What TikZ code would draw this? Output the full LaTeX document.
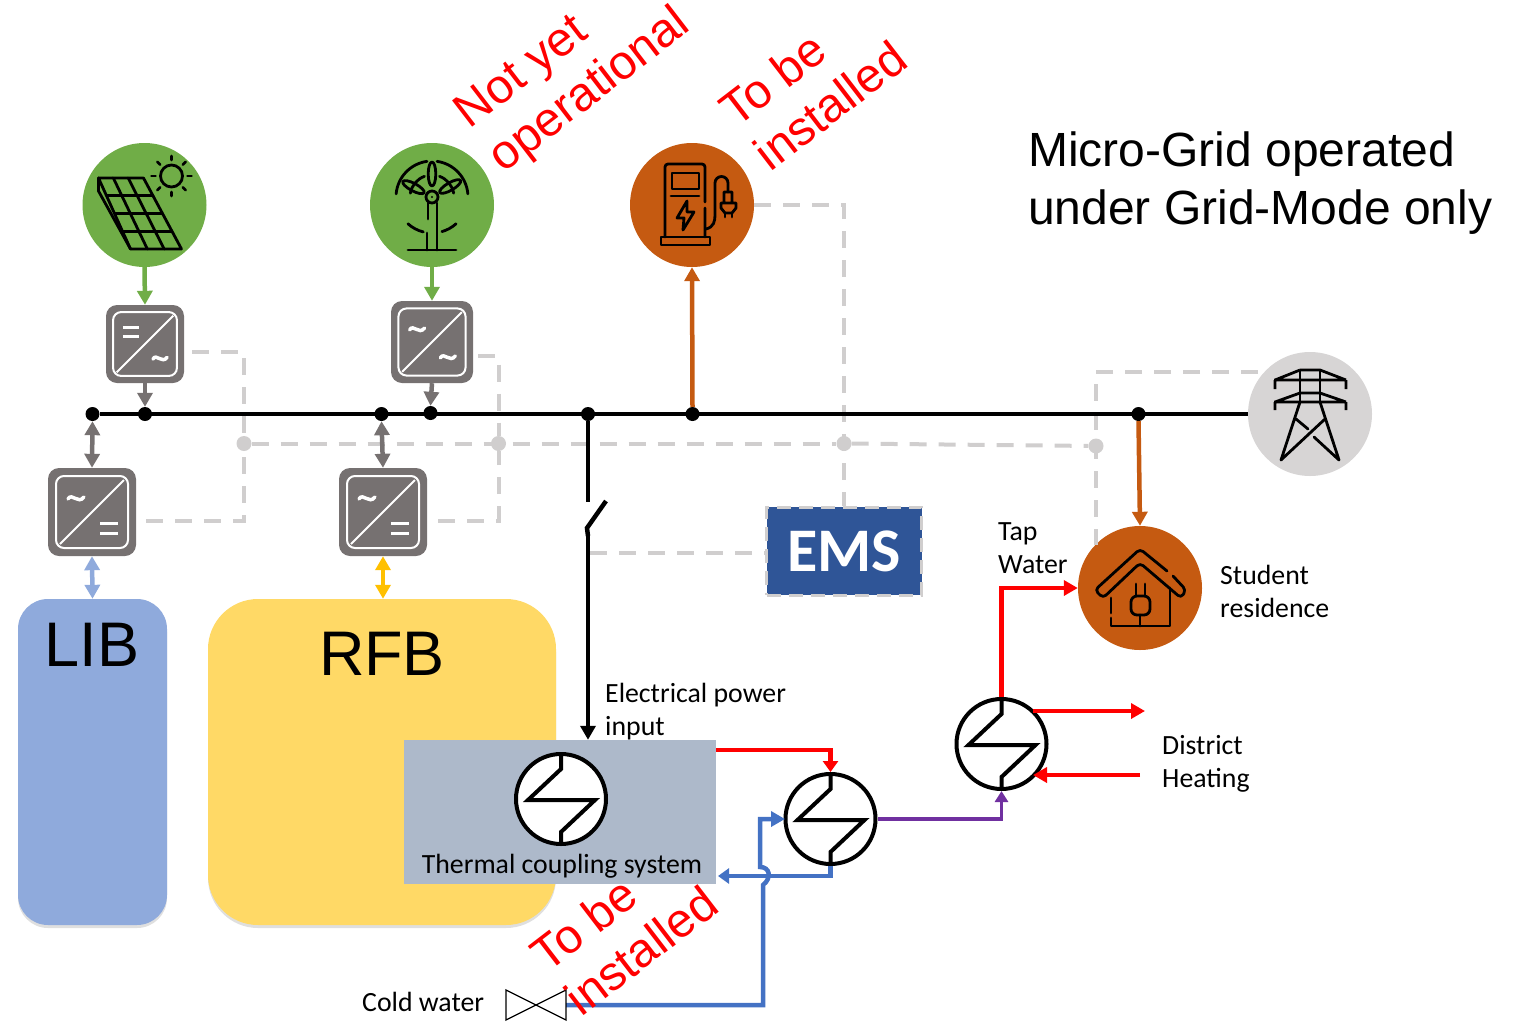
\documentclass[tikz,border=0pt]{standalone}
\usepackage{fontspec}
\setmainfont{Carlito}
\newfontfamily\arialfont{Liberation Sans}
\usetikzlibrary{arrows.meta,shadows}

\definecolor{pvgreen}{HTML}{70AD47}
\definecolor{loadorange}{HTML}{C55A11}
\definecolor{invgray}{HTML}{767171}
\definecolor{ctrlgray}{HTML}{D0CECE}
\definecolor{libblue}{HTML}{8FAADC}
\definecolor{rfbyellow}{HTML}{FFD966}
\definecolor{rfbarrow}{HTML}{FFC000}
\definecolor{boxgray}{HTML}{ADB9CA}
\definecolor{waterblue}{HTML}{4472C4}
\definecolor{emsblue}{HTML}{2F5597}
\definecolor{loopviolet}{HTML}{7030A0}

% signs on the converters
\newcommand{\acsign}{\draw[white, line width=3.5pt, line cap=round] (-8,1) .. controls (-4,-6) and (2,7) .. (8,-1);}
\newcommand{\dcsign}{\draw[white, line width=3pt] (-9,-5) -- (9,-5) (-9,5) -- (9,5);}
% node name, size, upper sign, lower sign
\newcommand{\convface}[4]{
  \begin{scope}[shift={(#1)}, scale=#2/88]
    \draw[white, line width=2pt, rounded corners=8pt] (-36,-36) rectangle (36,36);
    \draw[white, line width=2pt] (-32,32) -- (32,-32);
    \begin{scope}[shift={(-16,-14)}]#3\end{scope}
    \begin{scope}[shift={(17,16)}]#4\end{scope}
  \end{scope}
}

\tikzset{
  flow/.style={line width=4.5pt, -{Triangle[width=15pt,length=14pt]}},
  flowboth/.style={line width=4.5pt, {Triangle[width=15pt,length=14pt]}-{Triangle[width=15pt,length=14pt]}},
  ctrl/.style={ctrlgray, line width=4pt, dash pattern=on 17pt off 12pt},
  busdot/.style={circle, fill=black, minimum size=14pt, inner sep=0pt},
  ctrldot/.style={circle, fill=ctrlgray, minimum size=15pt, inner sep=0pt},
  disc/.style={circle, fill=#1, minimum size=124pt, inner sep=0pt},
  icon/.style={black, line width=2.8pt, line cap=round, line join=round},
  labeltext/.style={font=\fontsize{27.8}{33}\selectfont, anchor=west, align=left, inner sep=0pt},
  redtext/.style={font=\arialfont\fontsize{48}{56}\selectfont, text=red, rotate=37.5, align=left, inner sep=0pt},
  storage/.style={rectangle, fill=#1, inner sep=0pt, drop shadow={opacity=.25, shadow xshift=0pt, shadow yshift=-3pt}},
  converter/.style={rectangle, fill=invgray, rounded corners=11pt, minimum size=#1pt, inner sep=0pt},
  % heat exchanger
  hx/.style={circle, draw=black, fill=white, line width=4pt, minimum size=90pt, inner sep=0pt,
    path picture={\draw[black, line width=4pt] (0,-46) -- (0,-30) -- (-33,1) -- (34,1) -- (0,33) -- (0,46);}},
  solarcell/.style={disc=pvgreen, path picture={
    \draw[icon] (-46,-27) -- (-1,-27) -- (37,44) -- (-14,44) -- cycle;
    \draw[icon] (-46,-27) -- (-46,-14) -- (-14,44);
    \foreach \t in {.25,.5,.75} \draw[icon] ({-46+32*\t},{-27+71*\t}) -- ({-1+38*\t},{-27+71*\t});
    \foreach \t in {.33,.66} \draw[icon] ({-46+45*\t},-27) -- ({-14+51*\t},44);
    \draw[icon] (27,-29) circle (11);
    \foreach \a in {0,45,...,315} \draw[icon] (27,-29) ++(\a:16) -- ++(\a:4);
  }},
  chargepost/.style={disc=loadorange, path picture={
    \draw[icon, rounded corners=3pt] (-27,32) -- (-27,-41) -- (13,-41) -- (13,-3) (13,3) -- (13,32);
    \draw[icon] (-31,32) rectangle (18,40);
    \draw[icon] (-20,-32) rectangle (7,-16);
    \draw[icon] (-21,-9) -- (7,-9);
    \draw[icon] (-5,-4) -- (-15,13) -- (-8,13) -- (-9,25) -- (2,7) -- (-5,7) -- cycle;
    \draw[icon] (14,24) .. controls (22,22) and (23,16) .. (23,10) -- (23,-22) arc (180:360:6.5) -- (36,-13);
    \draw[icon] (32,-13) rectangle (40,-2) (29,-2) -- (44,-2) -- (44,3) -- (40,8) -- (33,8) -- (29,3) -- cycle;
    \draw[icon] (33,8) -- (33,12) (40,8) -- (40,12);
  }},
  homeplug/.style={disc=loadorange, path picture={
    \draw[icon, rounded corners=4pt] (27,-17) -- (0,-39) -- (-45,2) -- (-37,10) -- (0,-25) -- (41,10) -- (46,2) -- (33,-12);
    \draw[icon] (-29,10) -- (-29,25) (-29,30) -- (-29,38) -- (30,38) -- (30,0);
    \draw[icon] (-4,-4) -- (-4,8) (5,-4) -- (5,8);
    \draw[icon, rounded corners=6pt] (-9,8) -- (-9,27) -- (10,27) -- (10,8) -- cycle;
    \draw[icon] (0,27) -- (0,38);
  }},
  pylon/.style={disc=#1, path picture={
    \draw[icon, line cap=butt] (-10,-44) -- (10,-44) (-35,-34) -- (-10,-44) (10,-44) -- (36,-34) (-36,-34) -- (36,-34)
      (-35,-34) -- (-35,-25) (36,-34) -- (36,-25);
    \draw[icon, line cap=butt] (-10,-21) -- (10,-21) (-35,-12) -- (-10,-21) (10,-21) -- (36,-12) (-36,-12) -- (36,-12)
      (-35,-12) -- (-35,-4) (36,-12) -- (36,-4);
    \draw[icon, line cap=butt] (-10,-44) -- (-10,-12) (10,-44) -- (10,-12);
    \draw[icon] (-10,-12) -- (-29,46) (10,-12) -- (29,46) (-29,46) -- (15,5) (-14,5) -- (-2,15) (4,23) -- (29,46);
  }},
}

\begin{document}
\begin{tikzpicture}[x=1pt, y=-1pt]
  \useasboundingbox (0,0) rectangle (1516,1023);

  % storage
  \node[storage=libblue, rounded corners=30pt, minimum width=149pt, minimum height=326pt] (lib) at (92.5,762) {};
  \node[storage=rfbyellow, rounded corners=50pt, minimum width=348pt, minimum height=326pt] (rfb) at (382,762) {};
  \node[font=\arialfont\fontsize{63}{63}\selectfont] (libtext) at (92,645) {LIB};
  \node[font=\arialfont\fontsize{63}{63}\selectfont] (rfbtext) at (382,654) {RFB};

  % sources and loads
  \node[solarcell] (solar) at (144.5,205) {};
  \node[disc=pvgreen] (wind) at (432,205) {};
  \begin{scope}[shift={(wind)}]
    \draw[icon] (0,-8) circle (6);
    \fill (0,-8) circle (1.2);
    \draw[icon] (-4,-2) -- (-4,14) (-5,28) -- (-5,45) (5,-2) -- (5,45);
    \draw[icon] (-24,45) -- (24,45);
    \draw[icon] (0,-31) ellipse (3.8 and 12);
    \draw[icon, rotate around={30:(0,-8)}] (21,-8) ellipse (12 and 3.8);
    \draw[icon, rotate around={152:(0,-8)}] (21,-8) ellipse (12 and 3.8);
    \foreach \a/\b in {185/262,278/355,104/132,48/74} \draw[icon] (0,-8) ++(\a:36) arc (\a:\b:36);
    \foreach \a/\b in {190/250,290/350} \draw[icon] (0,-8) ++(\a:22) arc (\a:\b:22);
  \end{scope}
  \node[chargepost] (charger) at (692,205) {};
  \node[homeplug] (house) at (1140,588) {};
  \node[pylon=ctrlgray!85!white] (grid) at (1310,414) {};

  % converters
  \node[converter=78] (pvinv) at (145,344) {};
  \node[converter=82] (windinv) at (432,342) {};
  \node[converter=88] (libinv) at (92,512) {};
  \node[converter=88] (rfbinv) at (383,512) {};
  \convface{pvinv}{78}{\dcsign}{\acsign}
  \convface{windinv}{82}{\acsign}{\acsign}
  \convface{libinv}{88}{\acsign}{\dcsign}
  \convface{rfbinv}{88}{\acsign}{\dcsign}

  % bus junctions
  \node[busdot] (busa) at (92.5,414) {};
  \node[busdot] (busb) at (145,414) {};
  \node[busdot] (busc) at (381.5,414) {};
  \node[busdot] (busd) at (430.5,413) {};
  \node[busdot] (buse) at (588,414) {};
  \node[busdot] (busf) at (692.5,414) {};
  \node[busdot] (busg) at (1138.5,414) {};

  % control junctions
  \node[ctrldot] (ctrla) at (244,443.5) {};
  \node[ctrldot] (ctrlb) at (498.5,443.5) {};
  \node[ctrldot] (ctrlc) at (844,443.5) {};
  \node[ctrldot] (ctrld) at (1096,446) {};

  \node[rectangle, fill=emsblue, draw=ctrlgray, line width=3pt, dash pattern=on 14pt off 8pt, minimum width=155pt, minimum height=88pt,
        inner sep=0pt, text=white, text height=40pt, text depth=0pt, font=\bfseries\fontsize{62}{62}\selectfont] (ems) at (844,551) {EMS};

  % control lines
  \coordinate (pvctrl) at (192,352);
  \coordinate (windctrl) at (478,356);
  \coordinate (libctrl) at (146,520.5);
  \coordinate (rfbctrl) at (438,520.5);
  \coordinate (swctrl) at (590,553);
  \coordinate (gridctrl) at (1258,372);
  \coordinate (housectrl) at (1096,545);
  \draw[ctrl] (pvctrl) -| (ctrla);
  \draw[ctrl] (libctrl) -| (ctrla);
  \draw[ctrl] (windctrl) -| (ctrlb);
  \draw[ctrl] (rfbctrl) -| (ctrlb);
  \draw[ctrl] (ctrla) -- (ctrlc);
  \draw[ctrl] (ctrlc) -- (ctrld);
  \draw[ctrl] (charger.east) -| (ems.north);
  \draw[ctrl] (swctrl) -- (ems.west |- swctrl);
  \draw[ctrl] (gridctrl) -| (housectrl);

  % bus
  \draw[line width=4.5pt] (busa) -- (grid.west);
  \coordinate (swtop) at (588,502);
  \coordinate (swhinge) at (587,528);
  \coordinate (swblade) at (606,501);
  \draw[line width=4.5pt] (buse) -- (swtop);
  \draw[line width=4.5pt] (swblade) -- (swhinge) -- (588,536);

  % power arrows
  \draw[flow, pvgreen] (solar.south) -- (pvinv.north);
  \draw[flow, pvgreen] (wind.south) -- (windinv.north);
  \draw[flow, invgray] (pvinv.south) -- (busb.north);
  \draw[flow, invgray] (windinv.south) -- (busd.north);
  \draw[flowboth, invgray] (busa.south) -- (libinv.north);
  \draw[flowboth, invgray] (busc.south) -- (rfbinv.north);
  \draw[flowboth, libblue] (libinv.south) -- (lib.north);
  \draw[flowboth, rfbarrow] (rfbinv.south) -- (rfbinv.south |- rfb.north);
  \draw[flow, loadorange] (busf.north) -- (charger.south);
  \draw[flow, loadorange] (busg.south) -- (house.north);

  % thermal part
  \node[rectangle, fill=boxgray, minimum width=312pt, minimum height=144pt, inner sep=0pt] (thermal) at (560,812) {};
  \node[hx] (hxa) at (561,799) {};
  \node[hx] (hxb) at (830.5,819) {};
  \node[hx] (hxc) at (1001.5,744) {};
  \node[labeltext, anchor=center] (thermaltext) at (562,866) {Thermal coupling system};

  \draw[flow, black] (588,536) -- (thermal.north -| buse);

  \coordinate (hotout) at (716,750);
  \coordinate (heatout) at (1145,711);
  \coordinate (heatfrom) at (1033,711);
  \coordinate (heatin) at (1140,775);
  \coordinate (heatto) at (1033,775);
  \coordinate (coldback) at (718,876);
  \coordinate (valve) at (536,1005);
  \coordinate (bumplow) at (763,885);
  \coordinate (bumptop) at (760,867);
  \coordinate (hxfeed) at (785,819);

  \draw[flow, red, -{Triangle[width=15pt,length=11pt]}] (hotout) -| (hxb.north);
  \draw[flow, red] (hxc.north) |- (house.west);
  \draw[flow, red] (heatfrom) -- (heatout);
  \draw[flow, red] (heatin) -- (heatto);
  \draw[flow, loopviolet, line width=3.5pt, -{Triangle[width=13pt,length=11pt]}] (hxb.east) -| (hxc.south);
  \draw[flow, waterblue, -{Triangle[width=15pt,length=11pt]}] (hxb.south) |- (coldback);
  \draw[flow, waterblue] (valve) ++(30,0) -| (bumplow) .. controls (772,878) and (770,867) .. (bumptop) -- (760,819) -- (hxfeed);

  % valve
  \draw[line width=1.3pt] (valve) -- (506,990) -- (506,1020) -- (566,990) -- (566,1020) -- cycle;

  % labels
  \node[labeltext] (tapwater) at (998,548.5) {Tap\\Water};
  \node[labeltext] (student) at (1220,591) {Student\\residence};
  \node[labeltext] (power) at (605,711.5) {Electrical power\\input};
  \node[labeltext] (heating) at (1162,764) {District\\Heating};
  \node[labeltext] (coldwater) at (362,1002) {Cold water};
  \node[font=\arialfont\fontsize{48}{58}\selectfont, anchor=west, align=left, inner sep=0pt] (title) at (1028,183) {Micro-Grid operated\\under Grid-Mode only};

  % red notes
  \node[redtext] (noteone) at (574,70) {Not yet\\operational};
  \node[redtext] (notetwo) at (813,83) {To be\\installed};
  \node[redtext] (notethree) at (624,928) {To be\\installed};

\end{tikzpicture}
\end{document}
